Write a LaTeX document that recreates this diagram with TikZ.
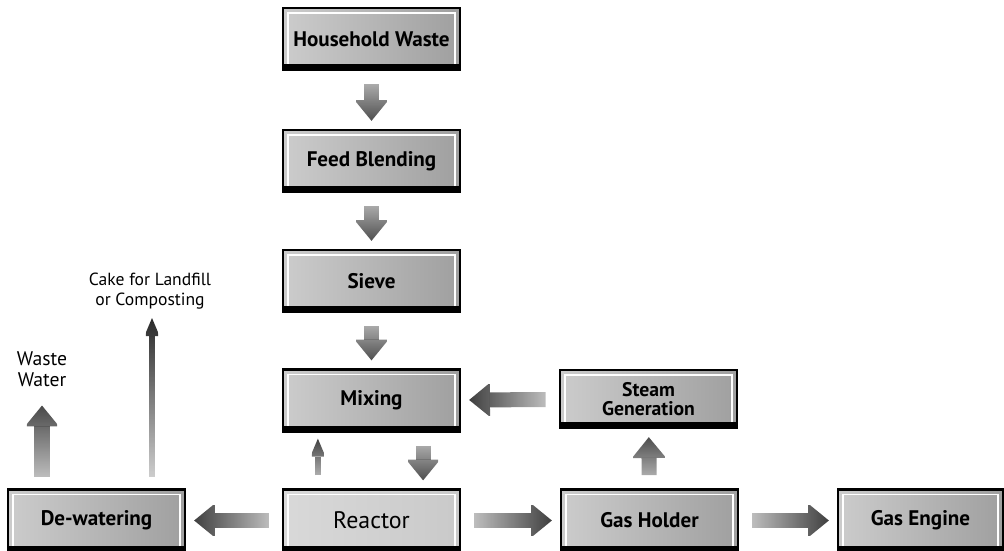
\documentclass[tikz,border=0pt]{standalone}
\usepackage{fontspec}
\setmainfont{PT Sans}
\usetikzlibrary{arrows.meta,fadings}

\tikzfading[name=flowfade, left color=transparent!85, right color=transparent!0]

\tikzset{
	box/.style={draw=black, line width=1.6pt, minimum width=4.425cm, minimum height=1.55cm,
		inner sep=0pt, left color=gray!40, middle color=gray!20, right color=gray!75,
		font=\fontsize{15}{13}\selectfont\bfseries, align=center,
		path picture={
			\draw[white, line width=1.2pt] ([shift={(5,-5)}]path picture bounding box.south west)
				rectangle ([shift={(-5,5)}]path picture bounding box.north east);
			\fill[black] (path picture bounding box.south west)
				rectangle ([shift={(0,-6)}]path picture bounding box.south east);
		}},
	flow/.style={draw=black!85, line width=0.375cm,
		-{Triangle[width=0.85cm,length=0.52cm,line width=0pt]},
		path fading=flowfade, shorten <=0.33cm, shorten >=0.2cm},
	thinflow/.style={flow, line width=0.15cm, -{Triangle[width=0.38cm,length=0.45cm,line width=0pt]}},
	tag/.style={font=\fontsize{12.5}{14}\selectfont, align=center}
}

\begin{document}
\begin{tikzpicture}[x=0.025cm,y=-0.025cm]
\useasboundingbox (0,0) rectangle (1004,551);

% Hauptstrang
\node[box] (hw) at (371.5,39) {Household Waste};
\node[box] (fb) at (371.5,161) {Feed Blending};
\node[box] (sv) at (371.5,281) {Sieve};
\node[box] (mx) at (371.5,400.5) {Mixing};
\node[box, left color=gray!30, middle color=gray!22, right color=gray!42,
	font=\fontsize{17}{17}\selectfont] (re) at (371.5,520.5) {Reactor};

% Seitenzweige
\node[box] (dw) at (96.5,520.5) {De-watering};
\node[box] (gh) at (649.5,520.5) {Gas Holder};
\node[box, minimum width=4.125cm] (ge) at (920.5,520.5) {Gas Engine};
\node[box, minimum height=1.45cm, font=\fontsize{14}{14}\selectfont\bfseries] (sg) at (648.5,399) {Steam\\Generation};

\node[tag, font=\fontsize{14}{15}\selectfont] (ww) at (42,369) {Waste\\Water};
\node[tag] (ck) at (150,291) {Cake for Landfill\\or Composting};
\coordinate (wwfoot) at (42,490);
\coordinate (ckfoot) at (152,490);
\coordinate (cktip) at (152,318);

% Pfeile
\foreach \a/\b in {hw/fb,fb/sv,sv/mx}{
	\draw[flow, fading angle=-90] (\a) -- (\b);
}
\draw[flow, fading angle=-90] ([xshift=1.29cm]mx.south) -- ([xshift=1.29cm]re.north);
\draw[thinflow, fading angle=90, shorten >=0.15cm] ([xshift=-1.34cm]re.north) -- ([xshift=-1.34cm]mx.south);
\draw[flow, fading angle=180] (re) -- (dw);
\draw[flow] (re) -- (gh);
\draw[flow] (gh) -- (ge);
\draw[flow, fading angle=90] (gh) -- (sg);
\draw[flow, fading angle=180] (sg) -- (mx);
\draw[flow, fading angle=90, shorten >=0.35cm] (wwfoot) -- (ww.south -| wwfoot);
\draw[thinflow, fading angle=90, shorten >=0pt] (ckfoot) -- (cktip);
\end{tikzpicture}
\end{document}
